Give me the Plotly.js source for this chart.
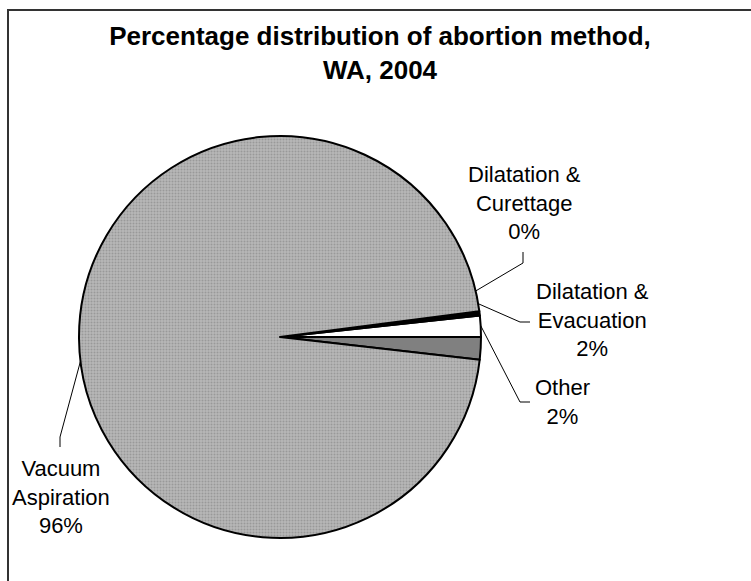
<!DOCTYPE html>
<html><head><meta charset="utf-8">
<script src="https://cdn.plot.ly/plotly-3.0.1.min.js"></script>
<style>html,body{margin:0;padding:0;background:#fff;overflow:hidden}#chart{width:751px;height:581px}</style>
</head><body><div id="chart"></div>
<script>
// Data (slices in drawing order, counterclockwise from 3 o'clock)
const categories = ["Other", "Dilatation & Evacuation", "Dilatation & Curettage", "Vacuum Aspiration"];
const labelLines = [["Other"], ["Dilatation &", "Evacuation"], ["Dilatation &", "Curettage"], ["Vacuum", "Aspiration"]];
const values = [1.8, 1.7, 0.35, 96.15];
const colors = ["#808080", "#ffffff", "#000000", "#b4b4b4"];

const W = 751, H = 581;
const cx = 280, cy = 337, R = 201;
const px = x => x / W, py = y => 1 - y / H;

const total = values.reduce((a, b) => a + b, 0);
const pct = values.map(v => Math.round(v / total * 100) + "%");

// label layout (pixels): text centre, elbow, stub end
const labelPos = [
  {tx: 562, ty: 402, elbow: [520, 402], end: [530, 402]},
  {tx: 592, ty: 320, elbow: [520, 322], end: [530, 322]},
  {tx: 524, ty: 203, elbow: [523, 263], end: [523, 252]},
  {tx: 61,  ty: 497, elbow: [60, 437],  end: [60, 447]}
];

const annotations = [];
const shapes = [
  {type: "path", xref: "paper", yref: "paper",
   path: `M ${px(8)} ${py(600)} L ${px(8)} ${py(10)} L ${px(760)} ${py(10)}`,
   fillcolor: "rgba(0,0,0,0)", line: {color: "#333333", width: 2}, layer: "below"}
];

let cum = 0;
values.forEach((v, i) => {
  const mid = (cum + v / 2) / total * 2 * Math.PI;
  cum += v;
  const ex = cx + R * Math.cos(mid), ey = cy - R * Math.sin(mid);
  const p = labelPos[i];
  shapes.push({
    type: "path", xref: "paper", yref: "paper",
    path: `M ${px(ex)} ${py(ey)} L ${px(p.elbow[0])} ${py(p.elbow[1])} L ${px(p.end[0])} ${py(p.end[1])}`,
    fillcolor: "rgba(0,0,0,0)", line: {color: "#000000", width: 1}
  });
  annotations.push({
    xref: "paper", yref: "paper", x: px(p.tx), y: py(p.ty),
    xanchor: "center", yanchor: "middle", align: "center", showarrow: false,
    text: labelLines[i].concat([pct[i]]).join("<br>"),
    font: {family: "Liberation Sans, Arial, sans-serif", size: 22, color: "#000"}
  });
});

const trace = {
  type: "pie",
  labels: categories,
  values: values,
  sort: false,
  direction: "counterclockwise",
  rotation: 90,
  textinfo: "none",
  hoverinfo: "label+percent",
  showlegend: false,
  domain: {x: [px(cx - R), px(cx + R)], y: [py(cy + R), py(cy - R)]},
  marker: {
    colors: colors,
    line: {color: "#000000", width: 2},
    pattern: {shape: ["", "", "", "."], fgcolor: "#999999", bgcolor: ["#808080", "#ffffff", "#000000", "#b8b8b8"], size: 3, solidity: 0.35}
  }
};

const layout = {
  width: W, height: H,
  margin: {l: 0, r: 0, t: 0, b: 0},
  paper_bgcolor: "#ffffff",
  title: {
    text: "<b>Percentage distribution of abortion method,<br>WA, 2004</b>",
    x: px(380), xanchor: "center", y: py(45), yanchor: "middle", xref: "paper", yref: "paper",
    font: {family: "Liberation Sans, Arial, sans-serif", size: 26, color: "#000"}
  },
  shapes: shapes,
  annotations: annotations
};

Plotly.newPlot("chart", [trace], layout, {displayModeBar: false, staticPlot: true});
</script>
</body></html>
